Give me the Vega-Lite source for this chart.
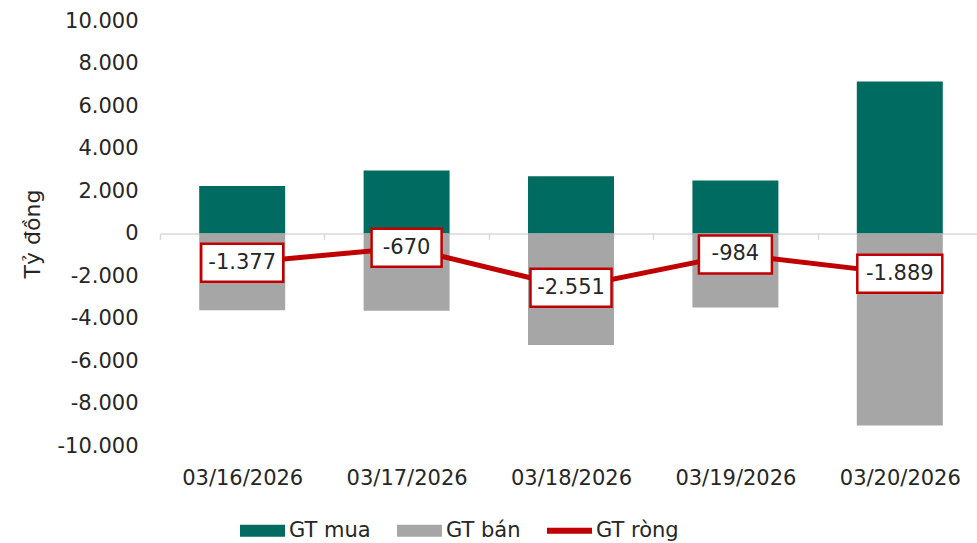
{
  "$schema": "https://vega.github.io/schema/vega-lite/v6.json",
  "width": 822,
  "height": 425,
  "autosize": {"type": "none"},
  "padding": {"left": 160, "top": 21, "right": 0, "bottom": 97},
  "config": {
    "locale": {"number": {"decimal": ",", "thousands": ".", "grouping": [3], "currency": ["", ""], "minus": "-"}},
    "font": "DejaVu Sans",
    "view": {"stroke": null},
    "axis": {"labelFont": "DejaVu Sans", "labelFontSize": 21, "labelColor": "#262626", "titleFont": "DejaVu Sans", "titleFontSize": 22, "titleFontWeight": "normal", "titleColor": "#262626", "grid": false},
    "axisY": {"domain": false, "ticks": false, "labelPadding": 22, "titlePadding": 12}
  },
  "data": {"values": [
    {"date": "03/16/2026", "GT mua": 2230, "GT bán": -3607, "GT ròng": -1377},
    {"date": "03/17/2026", "GT mua": 2960, "GT bán": -3630, "GT ròng": -670},
    {"date": "03/18/2026", "GT mua": 2700, "GT bán": -5251, "GT ròng": -2551},
    {"date": "03/19/2026", "GT mua": 2500, "GT bán": -3484, "GT ròng": -984},
    {"date": "03/20/2026", "GT mua": 7150, "GT bán": -9039, "GT ròng": -1889}
  ]},
  "encoding": {
    "x": {"field": "date", "type": "nominal", "sort": null,
      "scale": {"paddingInner": 0, "paddingOuter": 0},
      "axis": {"title": null, "labelAngle": 0, "offset": -212.5, "domainColor": "#D9D9D9", "domainWidth": 1.5, "tickColor": "#D9D9D9", "tickWidth": 1.5, "tickSize": 6, "tickBand": "extent", "labelPadding": 227.5}}
  },
  "layer": [
    {
      "transform": [{"fold": ["GT mua", "GT bán"], "as": ["series", "value"]}],
      "mark": {"type": "bar", "width": {"band": 0.523}},
      "encoding": {
        "y": {"field": "value", "type": "quantitative", "stack": null,
          "scale": {"domain": [-10000, 10000]},
          "axis": {"title": "Tỷ đồng", "values": [-10000, -8000, -6000, -4000, -2000, 0, 2000, 4000, 6000, 8000, 10000], "format": ",d"}},
        "color": {"field": "series", "type": "nominal",
          "scale": {"domain": ["GT mua", "GT bán", "GT ròng"], "range": ["#006B60", "#A6A6A6", "#C00000"]},
          "legend": {"orient": "none", "legendX": 80, "legendY": 487, "direction": "horizontal", "title": null,
            "symbolType": "M-1,-0.27H1V0.27H-1Z", "symbolSize": 2025, "symbolStrokeWidth": 0,
            "labelFont": "DejaVu Sans", "labelFontSize": 21, "labelColor": "#262626", "columnPadding": 26, "labelOffset": 4,
            "encode": {"symbols": {"update": {
              "shape": {"signal": "datum.value === 'GT ròng' ? 'M-1,-0.13H1V0.13H-1Z' : 'M-1,-0.27H1V0.27H-1Z'"},
              "fill": {"scale": "color", "field": "value"},
              "stroke": {"scale": "color", "field": "value"},
              "strokeWidth": {"value": 0},
              "opacity": {"value": 1}
            }}}}
        }
      }
    },
    {
      "mark": {"type": "line", "strokeWidth": 5},
      "encoding": {
        "y": {"field": "GT ròng", "type": "quantitative",
          "axis": {"title": "Tỷ đồng", "values": [-10000, -8000, -6000, -4000, -2000, 0, 2000, 4000, 6000, 8000, 10000], "format": ",d"}},
        "color": {"datum": "GT ròng", "type": "nominal"}
      }
    },
    {
      "mark": {"type": "point", "filled": true, "fill": "white", "stroke": "#C00000", "strokeWidth": 2.5, "size": 10000, "opacity": 1},
      "encoding": {
        "y": {"field": "GT ròng", "type": "quantitative",
          "axis": {"title": "Tỷ đồng", "values": [-10000, -8000, -6000, -4000, -2000, 0, 2000, 4000, 6000, 8000, 10000], "format": ",d"}},
        "shape": {"field": "date", "type": "nominal",
          "scale": {"domain": ["03/16/2026", "03/17/2026", "03/18/2026", "03/19/2026", "03/20/2026"],
            "range": ["M-0.82,-0.38H0.82V0.38H-0.82Z", "M-0.7,-0.38H0.7V0.38H-0.7Z", "M-0.81,-0.38H0.81V0.38H-0.81Z", "M-0.73,-0.38H0.73V0.38H-0.73Z", "M-0.85,-0.38H0.85V0.38H-0.85Z"]},
          "legend": null}
      }
    },
    {
      "mark": {"type": "text", "fontSize": 21, "color": "#262626", "align": "center", "baseline": "middle", "font": "DejaVu Sans"},
      "encoding": {
        "y": {"field": "GT ròng", "type": "quantitative",
          "axis": {"title": "Tỷ đồng", "values": [-10000, -8000, -6000, -4000, -2000, 0, 2000, 4000, 6000, 8000, 10000], "format": ",d"}},
        "text": {"field": "GT ròng", "type": "quantitative", "format": ",d"}
      }
    }
  ]
}
